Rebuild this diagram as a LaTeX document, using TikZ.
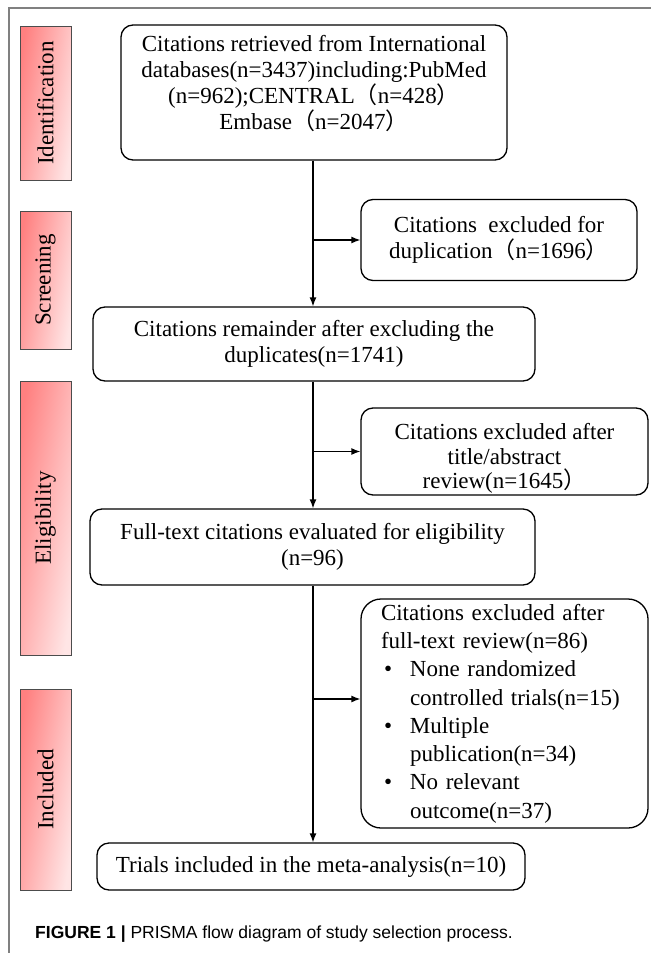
\documentclass[tikz,border=0pt]{standalone}
\usepackage{fontspec}
\setmainfont{Liberation Serif}
\newfontfamily\capfont{Liberation Sans}
\newfontfamily\cjk{Noto Sans CJK SC}
\usetikzlibrary{arrows.meta}
\newcommand{\lpar}{{\cjk （}}
\newcommand{\rpar}{{\cjk ）}}
\newcommand{\bul}{\makebox[29pt][l]{\hspace{3pt}\textbullet}}

\begin{document}
\begin{tikzpicture}[x=1pt,y=-1pt,
  box/.style={draw=black,line width=1.3pt,rounded corners=12pt,inner sep=0pt,align=center,font=\fontsize{23}{26}\selectfont},
  stage/.style={draw=black!70,line width=0.8pt,left color=red!50,right color=red!10,shading angle=80,minimum width=51pt,inner sep=0pt,font=\fontsize{23}{26}\selectfont},
  arr/.style={line width=1.3pt,-{Latex[length=9pt,width=7pt]}}]

\useasboundingbox (0,0) rectangle (651,953);
\draw[black!50,line width=1.2pt] (9,953) -- (9,8) -- (651,8);

% stages on the left
\node[stage,minimum height=154pt] (ident) at (45.5,103) {\rotatebox{90}{Identification}};
\node[stage,minimum height=138pt] (screen) at (45.5,280) {\rotatebox{90}{Screening}};
\node[stage,minimum height=274pt] (elig) at (45.5,518) {\rotatebox{90}{Eligibility}};
\node[stage,minimum height=201pt] (inclst) at (45.5,789.5) {\rotatebox{90}{Included}};

% main flow
\node[box,minimum width=386pt,minimum height=135pt] (retr) at (314,92.5) {Citations retrieved from International\\ databases(n=3437)including:PubMed\\ (n=962);CENTRAL\lpar n=428\rpar\\ Embase\lpar n=2047\rpar\rule[-20pt]{0pt}{20pt}};
\node[box,minimum width=276pt,minimum height=81pt] (dupl) at (499,240) {Citations\ \ excluded for\\ duplication\lpar n=1696\rpar};
\node[box,minimum width=442pt,minimum height=74pt] (remain) at (314,344) {Citations remainder after excluding the\\ duplicates(n=1741)};
\node[box,minimum width=287pt,minimum height=87pt,font=\fontsize{23}{24.5}\selectfont] (titab) at (504.5,451.5) {\rule{0pt}{30pt}Citations excluded after\\ title/abstract\\ review(n=1645\rpar};
\node[box,minimum width=445pt,minimum height=76pt] (full) at (312.5,547) {Full-text citations evaluated for eligibility\\ (n=96)};
\node[box,minimum width=287pt,minimum height=229pt,text width=247pt,inner xsep=20pt,align=left,rounded corners=20pt,font=\fontsize{23}{28.3}\selectfont] (ftrev) at (504.5,713.5) {Citations excluded after\\ full-text review(n=86)\\ \bul None randomized\\ \hspace*{29pt}controlled trials(n=15)\\ \bul Multiple\\ \hspace*{29pt}publication(n=34)\\ \bul No relevant\\ \hspace*{29pt}outcome(n=37)};
\node[box,minimum width=428pt,minimum height=47pt] (incl) at (311,866.5) {Trials included in the meta-analysis(n=10)};

\coordinate (spine) at (313,0);
\coordinate (ftin) at ([yshift=14.5pt]ftrev.west);

\draw[arr] (retr.south -| spine) -- (remain.north -| spine);
\draw[arr] (dupl.west -| spine) -- (dupl.west);
\draw[arr] (remain.south -| spine) -- (full.north -| spine);
\draw[arr] (titab.west -| spine) -- (titab.west);
\draw[arr] (full.south -| spine) -- (incl.north -| spine);
\draw[arr] (ftin -| spine) -- (ftin);

\node[anchor=west,inner sep=0pt,font=\capfont\fontsize{17.5}{20}\selectfont] (cap) at (35,934) {\textbf{FIGURE 1 |} PRISMA flow diagram of study selection process.};

\end{tikzpicture}
\end{document}
